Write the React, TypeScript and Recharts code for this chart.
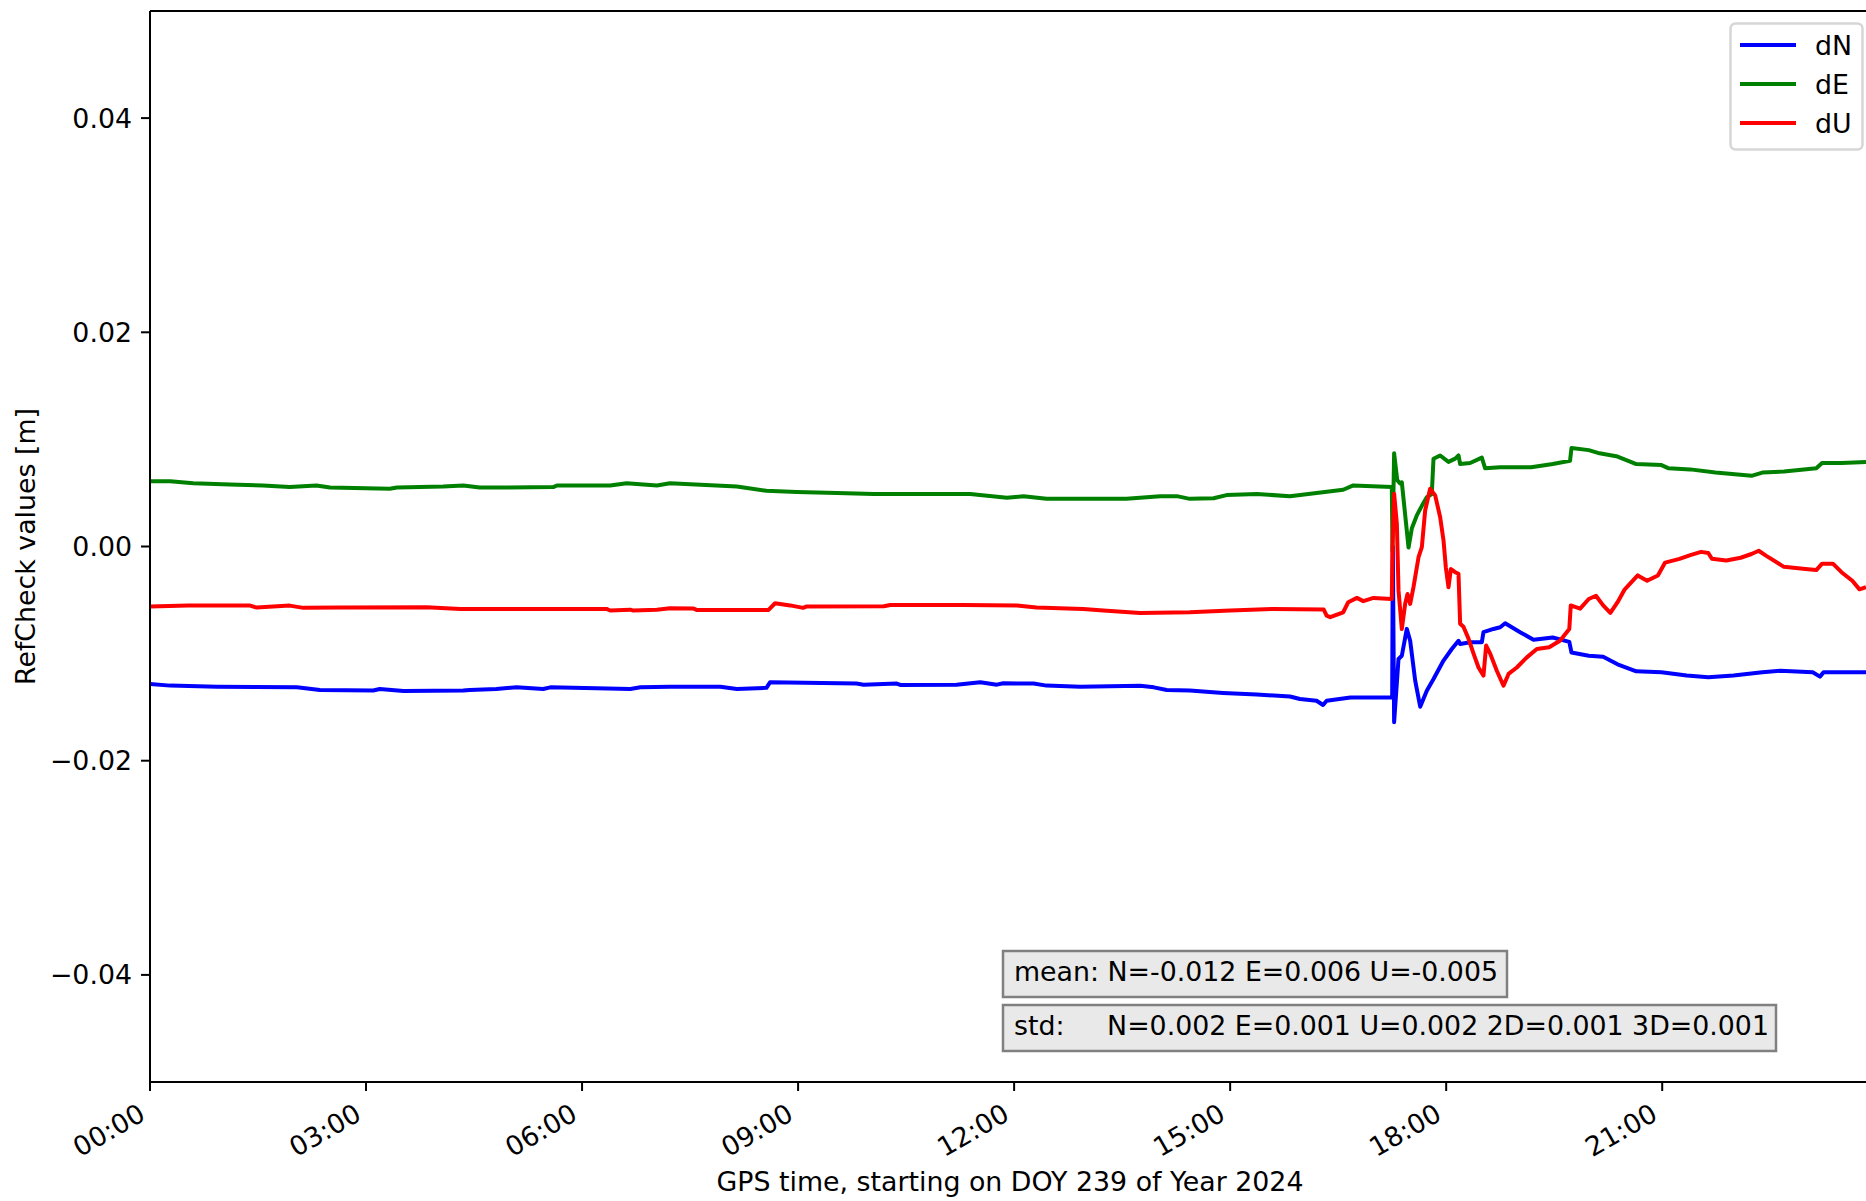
import React from 'react';
import { LineChart, Line, XAxis, YAxis, ReferenceLine, Legend } from 'recharts';

const FONT = '"DejaVu Sans", sans-serif';
const FS = 26.8;

// hours after 00:00 GPS time, values in metres
const dnHours = [
  0, 0.28, 0.93, 2.04, 2.36, 3.1, 3.19, 3.52, 4.35, 4.44, 4.81, 5.09, 5.46, 5.56, 6.67, 6.81, 7.22, 7.92,
  8.15, 8.56, 8.61, 9.81, 9.91, 10.37, 10.42, 11.2, 11.53, 11.76, 11.85, 12.27, 12.45, 12.92, 13.75, 13.94,
  14.12, 14.44, 14.9, 15.37, 15.83, 15.97, 16.2, 16.29, 16.34, 16.67, 17.25, 17.259, 17.277, 17.338, 17.384,
  17.453, 17.5, 17.569, 17.639, 17.731, 17.824, 17.963, 18.078, 18.171, 18.194, 18.333, 18.495, 18.518,
  18.657, 18.75, 18.819, 19.027, 19.213, 19.48, 19.71, 19.74, 19.98, 20.18, 20.38, 20.64, 20.99, 21.34,
  21.64, 21.99, 22.39, 22.64, 23.09, 23.19, 23.24, 23.83,
];
const dnValues = [
  -0.01283, -0.01299, -0.0131, -0.01315, -0.0134, -0.01345, -0.0133, -0.0135, -0.01345, -0.0134, -0.0133,
  -0.01315, -0.0133, -0.01315, -0.0133, -0.01315, -0.0131, -0.0131, -0.0133, -0.0132, -0.01268, -0.0128,
  -0.0129, -0.0128, -0.01293, -0.0129, -0.01268, -0.0129, -0.01277, -0.0128, -0.01299, -0.0131, -0.013,
  -0.01315, -0.0134, -0.01345, -0.01367, -0.01383, -0.014, -0.01424, -0.0144, -0.0148, -0.0144, -0.0141,
  -0.01408, 0.0, -0.0164, -0.0105, -0.0102, -0.00769, -0.0088, -0.0125, -0.01496, -0.01346, -0.01237,
  -0.01065, -0.00957, -0.0088, -0.0091, -0.00894, -0.00894, -0.008, -0.0077, -0.00754, -0.00717, -0.008,
  -0.0087, -0.0085, -0.0089, -0.0099, -0.0102, -0.0103, -0.011, -0.01165, -0.01175, -0.01205, -0.0122,
  -0.01205, -0.01175, -0.0116, -0.01175, -0.01215, -0.01175, -0.01175,
];

const deHours = [
  0, 0.28, 0.6, 1.11, 1.57, 1.94, 2.31, 2.5, 3.33, 3.43, 4.07, 4.35, 4.58, 5.6, 5.65, 6.39, 6.62, 7.04, 7.22,
  8.15, 8.56, 8.98, 9.54, 10.05, 10.56, 11.39, 11.9, 12.13, 12.45, 13.56, 14.03, 14.26, 14.44, 14.77, 14.95,
  15.37, 15.83, 16.2, 16.57, 16.71, 17.245, 17.254, 17.277, 17.32, 17.36, 17.384, 17.477, 17.523, 17.592,
  17.662, 17.731, 17.8, 17.824, 17.916, 18.032, 18.125, 18.171, 18.194, 18.333, 18.495, 18.541, 18.75,
  19.18, 19.48, 19.72, 19.74, 19.98, 20.13, 20.38, 20.64, 20.99, 21.09, 21.39, 21.74, 22.24, 22.39, 22.69,
  23.14, 23.22, 23.49, 23.83,
];
const deValues = [
  0.0061, 0.0061, 0.0059, 0.0058, 0.0057, 0.00555, 0.0057, 0.0055, 0.0054, 0.0055, 0.0056, 0.0057, 0.0055,
  0.00555, 0.0057, 0.0057, 0.0059, 0.0057, 0.0059, 0.0056, 0.0052, 0.0051, 0.005, 0.0049, 0.0049, 0.0049,
  0.00455, 0.0047, 0.00445, 0.00445, 0.0047, 0.0047, 0.00445, 0.0045, 0.0048, 0.0049, 0.0047, 0.005, 0.0053,
  0.0057, 0.00555, -0.0004, 0.0087, 0.0062, 0.0059, 0.006, -0.0001, 0.0017, 0.0029, 0.0038, 0.0046, 0.0049,
  0.0082, 0.0085, 0.0079, 0.0082, 0.0085, 0.0077, 0.0078, 0.0083, 0.0073, 0.0074, 0.0074, 0.0077, 0.008,
  0.0092, 0.009, 0.0087, 0.0084, 0.0077, 0.0076, 0.0073, 0.0072, 0.0069, 0.0066, 0.0069, 0.007, 0.0073,
  0.0078, 0.0078, 0.0079,
];

const duHours = [
  0, 0.53, 1.39, 1.48, 1.94, 2.13, 2.64, 3.84, 4.31, 6.34, 6.39, 6.67, 6.71, 7.04, 7.22, 7.55, 7.59, 8.59,
  8.68, 8.89, 9.07, 9.12, 10.19, 10.28, 11.3, 12.04, 12.31, 12.96, 13.24, 13.75, 14.44, 15.0, 15.6, 16.3,
  16.34, 16.39, 16.57, 16.64, 16.76, 16.85, 16.99, 17.245, 17.254, 17.277, 17.315, 17.338, 17.384, 17.43,
  17.463, 17.5, 17.546, 17.616, 17.662, 17.708, 17.777, 17.847, 17.916, 17.963, 17.995, 18.032, 18.065,
  18.125, 18.171, 18.194, 18.24, 18.31, 18.38, 18.449, 18.518, 18.555, 18.611, 18.703, 18.796, 18.866,
  18.981, 19.12, 19.259, 19.43, 19.58, 19.71, 19.73, 19.86, 19.98, 20.08, 20.18, 20.28, 20.38, 20.48, 20.66,
  20.79, 20.94, 21.04, 21.24, 21.39, 21.54, 21.64, 21.69, 21.89, 22.09, 22.24, 22.34, 22.44, 22.69, 22.99,
  23.14, 23.22, 23.37, 23.49, 23.64, 23.74, 23.83,
];
const duValues = [
  -0.00561, -0.00552, -0.00552, -0.0057, -0.00552, -0.00573, -0.0057, -0.00567, -0.00583, -0.00583, -0.00598,
  -0.0059, -0.00598, -0.0059, -0.00576, -0.0058, -0.00592, -0.00592, -0.0053, -0.0055, -0.00573, -0.0056,
  -0.00558, -0.00546, -0.00546, -0.0055, -0.0057, -0.00583, -0.00598, -0.0062, -0.00614, -0.00598, -0.00583,
  -0.00589, -0.00645, -0.0066, -0.00614, -0.0052, -0.0048, -0.0051, -0.0048, -0.0049, 0.0, 0.00492, 0.00213,
  -0.0041, -0.0077, -0.00536, -0.00443, -0.00536, -0.0038, -0.001, -0.00006, 0.00336, 0.0054, 0.00477,
  0.00275, 0.00056, -0.00193, -0.0038, -0.0021, -0.0024, -0.00255, -0.00722, -0.0075, -0.0086, -0.01,
  -0.0113, -0.01206, -0.00925, -0.01, -0.0116, -0.013, -0.0119, -0.0113, -0.01035, -0.00957, -0.0094,
  -0.0088, -0.0077, -0.0055, -0.0058, -0.0049, -0.0046, -0.0055, -0.0062, -0.0052, -0.004, -0.0027, -0.0032,
  -0.0027, -0.0015, -0.00115, -0.0008, -0.0005, -0.0006, -0.00115, -0.0013, -0.00105, -0.0007, -0.0004,
  -0.00085, -0.0019, -0.0021, -0.0022, -0.0016, -0.0016, -0.0024, -0.0032, -0.004, -0.0038,
];

const xTicks = [0, 3, 6, 9, 12, 15, 18, 21];
const yTicks = [-0.04, -0.02, 0, 0.02, 0.04];
const meanText = 'mean: N=-0.012 E=0.006 U=-0.005';
const stdText = 'std:     N=0.002 E=0.001 U=0.002 2D=0.001 3D=0.001';

const SERIES = [
  { name: 'dN', color: '#0000ff', hours: dnHours, values: dnValues },
  { name: 'dE', color: '#008000', hours: deHours, values: deValues },
  { name: 'dU', color: '#ff0000', hours: duHours, values: duValues },
];

const toRows = (hours: number[], values: number[]) => hours.map((t, i) => ({ t, v: values[i] }));

const fmtHour = (h: number) => `${String(h).padStart(2, '0')}:00`;
const fmtY = (v: number) => (v < 0 ? '\u2212' : '') + Math.abs(v).toFixed(2);

const XTick = ({ x, y, payload }: any) => {
  const ax = x - 3;
  const ay = y + 19;
  return (
    <text x={ax} y={ay} textAnchor="end" transform={`rotate(-30 ${ax} ${ay})`} fontFamily={FONT} fontSize={FS} fill="#000">
      {fmtHour(payload.value)}
    </text>
  );
};

const YTick = ({ x, y, payload }: any) => (
  <text x={x} y={y + 9.5} textAnchor="end" fontFamily={FONT} fontSize={FS} fill="#000">
    {fmtY(payload.value)}
  </text>
);

const LegendBox = () => (
  <svg width={136} height={130} style={{ display: 'block' }}>
    <rect x={1.5} y={1.5} width={132} height={126} rx={5} fill="rgba(255,255,255,0.8)" stroke="#d6d6d6" strokeWidth={2.5} />
    {SERIES.map((s, i) => (
      <g key={s.name}>
        <line x1={11} x2={67} y1={23 + i * 39} y2={23 + i * 39} stroke={s.color} strokeWidth={4} />
        <text x={86} y={23 + i * 39 + 9.5} fontFamily={FONT} fontSize={FS} fill="#000">{s.name}</text>
      </g>
    ))}
  </svg>
);

export default function App() {
  return (
    <div style={{ position: 'fixed', left: 0, top: 0, width: 1866, height: 1201, background: '#fff' }}>
      <LineChart width={1866} height={1201} margin={{ top: 11, right: 0, bottom: 0, left: 0 }}>
        <XAxis
          type="number"
          dataKey="t"
          domain={[0, 23.83]}
          ticks={xTicks}
          allowDataOverflow
          height={119}
          tickSize={9}
          tickMargin={9}
          tick={<XTick />}
          tickLine={{ stroke: '#000', strokeWidth: 2 }}
          axisLine={{ stroke: '#000', strokeWidth: 2 }}
        />
        <YAxis
          type="number"
          domain={[-0.05, 0.05]}
          ticks={yTicks}
          allowDataOverflow
          width={150}
          tickSize={9}
          tickMargin={9}
          tick={<YTick />}
          tickLine={{ stroke: '#000', strokeWidth: 2 }}
          axisLine={{ stroke: '#000', strokeWidth: 2 }}
        />
        <ReferenceLine y={0.05} stroke="#000" strokeWidth={2} />
        {SERIES.map(s => (
          <Line
            key={s.name}
            data={toRows(s.hours, s.values)}
            dataKey="v"
            name={s.name}
            type="linear"
            stroke={s.color}
            strokeWidth={4}
            strokeLinejoin="round"
            dot={false}
            activeDot={false}
            isAnimationActive={false}
          />
        ))}
        <Legend
          layout="vertical"
          align="center"
          verticalAlign="middle"
          content={() => <LegendBox />}
          wrapperStyle={{ left: 1729, top: 22, width: 136, height: 130 }}
        />
        <text x={1010} y={1191} textAnchor="middle" fontFamily={FONT} fontSize={FS} fill="#000">
          GPS time, starting on DOY 239 of Year 2024
        </text>
        <text x={34.5} y={546.5} textAnchor="middle" transform="rotate(-90 34.5 546.5)" fontFamily={FONT} fontSize={FS} fill="#000">
          RefCheck values [m]
        </text>
        <rect x={1003} y={951} width={504} height={46} fill="#e9e9e9" stroke="#808080" strokeWidth={2.5} />
        <text x={1014} y={981} fontFamily={FONT} fontSize={FS} fill="#000" style={{ whiteSpace: 'pre' }}>{meanText}</text>
        <rect x={1003} y={1005} width={773} height={46} fill="#e9e9e9" stroke="#808080" strokeWidth={2.5} />
        <text x={1014} y={1035} fontFamily={FONT} fontSize={FS} fill="#000" style={{ whiteSpace: 'pre' }}>{stdText}</text>
      </LineChart>
    </div>
  );
}
